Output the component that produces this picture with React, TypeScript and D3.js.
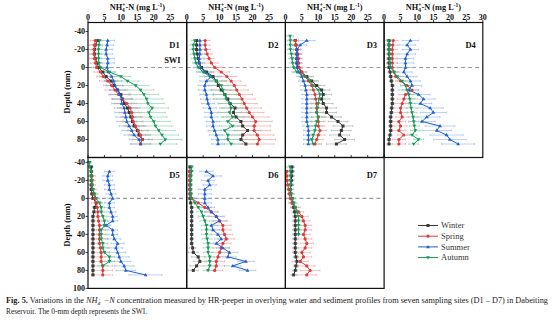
import React from "react";
import * as d3 from "d3";

const N = null;
const depths = [-40,-35,-30,-25,-20,-15,-10,-5,0,5,10,15,20,25,30,35,40,45,50,55,60,65,70,75,80,85];
const xTicks = [0,5,10,15,20,25,30];
const yTicksTop = [-40,-20,0,20,40,60,80];
const yTicksBottom = [-40,-20,0,20,40,60,80,100];
const seasons = ["Winter","Spring","Summer","Autumn"];
const panelNames = ["D1","D2","D3","D4","D5","D6","D7"];

// D1
const d1Winter = [N,N,3,2.2,2,2,2.2,2.8,3.2,4.5,5.5,7,8,9,10,10.5,11,12,12.5,13,13.5,14,15,15.5,16.5,N];
const d1Spring = [N,N,2.2,2,1.8,1.8,2,2.3,2.6,3.8,4.6,6,7.2,8.2,9.3,10.5,11.8,12.8,13.3,13.5,13.8,14.5,15.3,16,16.5,16];
const d1Summer = [N,N,6,5.8,5.5,5.5,6,6,5.8,6.2,7.2,7.8,8.2,9,9.6,10.2,10.2,11,11.2,11.5,11.8,12.5,13.3,14,15.5,16];
const d1Autumn = [N,N,3.5,3.3,3.2,3.2,3.2,3.3,3.8,6.5,10,12,14.5,16,17,17.8,18.2,19.5,18.5,19,20,20.5,21.5,22.5,23.5,22];
const d1WinterErr = [N,N,1,1,1,1,1,1,1.5,1.5,2,2,2.5,2.5,3,3,3,3,3,3,3,3,3,3,3,N];
const d1SpringErr = [N,N,1.5,1.5,1.5,1.5,1.5,1.5,1.5,2,2,2.5,2.5,3,3,3,3,3,3,3,3,3,3,3,3,3];
const d1SummerErr = [N,N,2,2,2,2,2,2,2,2,2.5,2.5,2.5,2.5,3,3,3,3,3,3,3,3,3,3,3,3];
const d1AutumnErr = [N,N,1,1,1,1,1,1,1.5,2,3,3.5,4,4,4.5,5,5,5,5,5,5,5,5,5,5,5];

// D2
const d2Winter = [N,N,3,3,3,3.2,3.5,3.8,4.5,6,8,9,9.6,10.5,11.6,12.5,13.2,14.7,14.2,15,16.5,17,18.5,17,16.5,18];
const d2Spring = [N,N,5.6,5.6,5.8,6.2,6.8,7.5,8.5,10.5,12.2,13.5,14.5,15.2,16,16.8,17.5,18.2,19,20,21,20.5,20.5,21.5,22,21.5];
const d2Summer = [N,N,4,4,4,4,3.8,3.8,4.2,5.5,7.5,6,5.5,5.5,6,6.2,6.5,7,7.5,7.5,8,8,8.5,9,9.5,9.5];
const d2Autumn = [N,N,2.5,2,2,2.2,2.5,2.8,3.5,5,7,9,10.5,11,11.5,12,13,13.5,13,14,12.5,14,11.5,12.5,12.5,13.5];
const d2WinterErr = [N,N,1,1,1,1,1,1,1.5,2,2.5,3,3,3,3.5,3.5,3.5,4,4,4,4,4,4,4,4,4];
const d2SpringErr = [N,N,1.5,1.5,1.5,1.5,1.5,2,2,2.5,3,3,3.5,3.5,4,4,4,4.5,4.5,5,5,5,5,5,5,5];
const d2SummerErr = [N,N,1.5,1.5,1.5,1.5,1.5,1.5,2,2,2,2,2,2,2,2,2,2,2,2,2,2,2,2,2,2];
const d2AutumnErr = [N,N,1,1,1,1,1,1,1.5,2,3,3,3.5,3.5,3.5,3.5,3.5,3.5,3.5,3.5,3.5,3.5,3.5,3.5,3.5,3.5];

// D3
const d3Winter = [N,N,3,3.2,3.5,3.5,3.5,3.5,3.8,4.8,6.5,8,9.5,11,11.5,11,11.5,12.5,12.5,14,16,17.5,17,16.5,18,15.5];
const d3Spring = [N,N,3,3.2,3.5,3.8,4,4,4.2,5,6,7,8,8.5,9,9.2,9.5,9.5,9.5,10,10,10,10.5,10,9.5,9];
const d3Summer = [N,N,6.5,4.5,3.5,3.5,3.5,3.5,3.5,4,5,5.5,6,6.2,6.5,6.5,6.5,6.5,6.5,6.5,6.5,6.8,7,7,7,7];
const d3Autumn = [N,1.4,1.5,1.5,1.5,1.8,2,2.2,2.5,3.5,6,7.5,8.5,10,10.5,10.2,10,9.8,9.5,10,9.5,9.2,9,8.5,8,8.5];
const d3WinterErr = [N,N,1,1,1,1,1,1,1,1.5,2,2,2.5,2.5,2.5,2.5,3,3,3,3,3,3,3,3,3,3];
const d3SpringErr = [N,N,1,1,1,1,1,1,1,1.5,1.5,2,2,2,2,2,2,2,2,2,2,2,2,2,2,2];
const d3SummerErr = [N,N,2.5,2,1.5,1.5,1.5,1.5,1.5,1.5,1.5,1.5,1.5,1.5,1.5,1.5,1.5,1.5,1.5,1.5,1.5,1.5,1.5,1.5,1.5,1.5];
const d3AutumnErr = [N,1,1,1,1,1,1,1,1,1.5,2,2,2,2,2,2,2,2,2,2,2,2,2,2,2,2];

// D4
const d4Winter = [N,N,1.5,1.5,1.5,1.5,1.5,1.5,1.5,1.8,2,2.2,2.5,2.5,2.5,2.5,2.5,2.3,2.2,2,2,2,2,1.8,1.5,1.5];
const d4Spring = [N,N,2.8,2.6,2.5,2.5,2.5,2.5,2.5,3,3.5,5,7,8.5,6.5,6,5.5,5,5,5.5,4.5,5,4.5,6,4.5,4.5];
const d4Summer = [N,N,8,7,8,7,6.5,6.5,6.5,6,7,8,8.5,7.5,10.5,12,11,14,15,13,11.5,17,16,19,20,22.5];
const d4Autumn = [N,N,1.3,1.4,1.5,1.6,1.8,1.8,2,3,4,5.5,6.5,7,7.5,7.8,8,8.2,8.5,8.8,9,9.2,9.5,8.5,10.5,9];
const d4WinterErr = [N,N,0.6,0.6,0.6,0.6,0.6,0.6,0.6,0.6,0.6,0.6,0.6,0.6,0.6,0.6,0.6,0.6,0.6,0.6,0.6,0.6,0.6,0.6,0.6,0.6];
const d4SpringErr = [N,N,1.5,1.5,1.5,1.5,1.5,1.5,1.5,1.5,1.5,1.5,2,2,2,2,2,2,2,2,2,2,2,2,2,2];
const d4SummerErr = [N,N,2.5,2.5,2.5,2.5,2.5,2.5,2.5,2.5,3,3,3,3,3.5,3.5,3.5,4,4,4,4,4.5,4.5,5,5,5];
const d4AutumnErr = [N,N,1,1,1,1,1,1,1,1,1.5,1.5,1.5,1.5,1.5,1.5,1.5,1.5,1.5,1.5,1.5,1.5,1.5,1.5,1.5,1.5];

// D5
const d5Winter = [N,1,1,1,1,1,1,1.2,1.5,2.5,2,1.8,1.5,1.5,1.5,1.5,1.5,1.5,1.5,1.5,1.5,1.5,1.5,1.5,1.5,1.5];
const d5Spring = [N,N,N,1.2,1.2,1.3,1.5,1.8,2,2.5,2.8,3,3,3.2,3.5,3.5,3.5,3.5,3.5,3.8,4,4,4,4.5,4.5,4.5];
const d5Summer = [N,N,6.5,6,6,6.5,6.5,7,7.5,6.5,6.5,7,7.5,7.5,5.5,7.5,7.5,8,9,8.5,9,9.5,10,11,11.5,17.5];
const d5Autumn = [0.5,0.5,1,1,1.2,1.2,1.5,2,2.5,3.5,4,4,4.5,5,5,4,4,4,4.5,4.5,5,6.5,6.5,4.5,N,N];
const d5WinterErr = [N,0.5,0.5,0.5,0.5,0.5,0.5,0.5,0.5,0.5,0.5,0.5,0.5,0.5,0.5,0.5,0.5,0.5,0.5,0.5,0.5,0.5,0.5,0.5,0.5,0.5];
const d5SpringErr = [N,N,N,1,1,1,1,1,1,1.5,1.5,1.5,1.5,2,2,2,2,2.5,2.5,2.5,2.5,3,3,3,3,3];
const d5SummerErr = [N,N,1.5,1.5,1.5,1.5,1.5,1.5,1.5,1.5,1.5,1.5,1.5,1.5,1.5,1.5,1.5,2,2,2,2.5,3,3,3,3,5];
const d5AutumnErr = [0.5,0.5,0.5,0.5,0.5,0.5,0.5,1,1,1,1,1,1,1,1.5,1.5,1.5,1.5,1.5,1.5,1.5,1.5,1.5,1.5,N,N];

// D6
const d6Winter = [N,1,1,1,1,1,1,1,1,1.2,1.5,1.5,1.5,1.5,1.5,1.5,1.5,1.5,1.5,1.8,2,3.5,4,3,2,N];
const d6Spring = [N,N,1,1,1,1,1,1.2,1.5,3.5,5.5,7.5,9,10,11,11,11.5,12,11,10.5,10,9.5,9,9,8.5,N];
const d6Summer = [N,N,6,8,6.5,7,5.5,5.5,5.5,5.5,6.5,7.5,9,10,7.5,8,9.5,10.5,9,11,13,12.5,18,14,18.5,N];
const d6Autumn = [N,1.5,1.5,1.3,1.2,1.2,1.2,1.3,1.5,2.5,3.5,4.5,5,5.5,6,6,6,6.2,6.5,6.5,6.5,7,7,7,6.5,N];
const d6WinterErr = [N,0.5,0.5,0.5,0.5,0.5,0.5,0.5,0.5,0.5,0.5,0.5,0.5,0.5,0.5,0.5,0.5,0.5,0.5,1,1.5,2,2,2,1.5,N];
const d6SpringErr = [N,N,0.5,0.5,0.5,0.5,0.5,0.5,1,1.5,2,2,2.5,2.5,2.5,2.5,2.5,2.5,2.5,2.5,2.5,2.5,2.5,2.5,2.5,N];
const d6SummerErr = [N,N,2,2.5,2,2,2,2,2,2,2,2,2,2,2,2,2,2,2,2,2.5,2.5,2.5,2.5,2.5,N];
const d6AutumnErr = [N,0.5,0.5,0.5,0.5,0.5,0.5,0.5,1,1,1.5,1.5,1.5,1.5,1.5,1.5,1.5,1.5,1.5,1.5,1.5,1.5,1.5,1.5,1.5,N];

// D7
const d7Winter = [N,2,2,1.9,1.8,1.7,1.5,1.6,2,2.2,2.5,2.8,3,3,3,3,3,3,3,3,3,3.2,3.5,3.2,3,2.5];
const d7Spring = [N,N,0.4,0.4,0.5,0.7,1,1.2,1.5,2,3,4,5,5.5,6,6,5.5,6,6.5,6,5,5.5,4.5,6.5,7.5,6.5];
const d7Summer = [N,N,N,N,N,N,N,N,N,N,N,N,N,N,N,N,N,N,N,N,N,N,N,N,N,N];
const d7Autumn = [N,1.4,1.5,1.5,1.5,1.5,1.5,1.8,2,2.5,3,3.5,4,4,4,4,4,N,N,N,N,N,N,N,N,N];
const d7WinterErr = [N,0.8,0.8,0.8,0.8,0.8,0.8,0.8,0.8,0.8,0.8,0.8,0.8,0.8,0.8,0.8,0.8,0.8,0.8,0.8,0.8,0.8,0.8,0.8,0.8,0.8];
const d7SpringErr = [N,N,0.5,0.5,0.5,0.5,0.5,0.5,1,1,1.5,1.5,2,2,2,2,2,2,2,2,2.5,2.5,2.5,2.5,3,3];
const d7SummerErr = [N,N,N,N,N,N,N,N,N,N,N,N,N,N,N,N,N,N,N,N,N,N,N,N,N,N];
const d7AutumnErr = [N,1,1,1,1,1,1,1,1,1,1,1,1,1,1,1,1,N,N,N,N,N,N,N,N,N];

const panelValues = [
  [d1Winter, d1Spring, d1Summer, d1Autumn],
  [d2Winter, d2Spring, d2Summer, d2Autumn],
  [d3Winter, d3Spring, d3Summer, d3Autumn],
  [d4Winter, d4Spring, d4Summer, d4Autumn],
  [d5Winter, d5Spring, d5Summer, d5Autumn],
  [d6Winter, d6Spring, d6Summer, d6Autumn],
  [d7Winter, d7Spring, d7Summer, d7Autumn],
];
const panelErrors = [
  [d1WinterErr, d1SpringErr, d1SummerErr, d1AutumnErr],
  [d2WinterErr, d2SpringErr, d2SummerErr, d2AutumnErr],
  [d3WinterErr, d3SpringErr, d3SummerErr, d3AutumnErr],
  [d4WinterErr, d4SpringErr, d4SummerErr, d4AutumnErr],
  [d5WinterErr, d5SpringErr, d5SummerErr, d5AutumnErr],
  [d6WinterErr, d6SpringErr, d6SummerErr, d6AutumnErr],
  [d7WinterErr, d7SpringErr, d7SummerErr, d7AutumnErr],
];

const lineColors = ["#3a3a3a", "#e2393a", "#1f5fd0", "#17995a"];
const errColors = ["#a8a8a8", "#f29a97", "#8fb2ee", "#86cfa6"];
const serif = "'Liberation Serif', 'DejaVu Serif', 'Times New Roman', serif";

const W = 554, H = 329;
const left0 = 88;
const panelW = 98.7;
const rows = [
  { top: 22.5, bottom: 157.5, zero: 67.5 },
  { top: 157.5, bottom: 288.4, zero: 198.4 },
];

function Marker({ kind, x, y, color }: { kind: number; x: number; y: number; color: string }) {
  if (kind === 0) return <rect x={x - 1.5} y={y - 1.5} width={3} height={3} fill={color} />;
  if (kind === 1) return <circle cx={x} cy={y} r={1.6} fill={color} />;
  if (kind === 2) return <path d={`M${x},${y - 2} L${x + 1.9},${y + 1.3} L${x - 1.9},${y + 1.3}Z`} fill={color} />;
  return <path d={`M${x},${y + 2} L${x + 1.9},${y - 1.3} L${x - 1.9},${y - 1.3}Z`} fill={color} />;
}

function Panel({ idx }: { idx: number }) {
  const row = idx < 4 ? 0 : 1;
  const col = idx < 4 ? idx : idx - 4;
  const r = rows[row];
  const x0 = left0 + col * panelW;
  const x = d3.scaleLinear().domain([0, 30]).range([x0, x0 + panelW]);
  const y = d3.scaleLinear().domain([0, 100]).range([r.zero, r.zero + 90]);
  const vals = panelValues[idx];
  const errs = panelErrors[idx];
  const line = d3
    .line<number | null>()
    .defined((v) => v !== null)
    .x((v) => x(v as number))
    .y((_, i) => y(depths[i]));

  return (
    <g>
      <line x1={x0} x2={x0 + panelW} y1={y(0)} y2={y(0)} stroke="#9a9a9a" strokeWidth={1.1} strokeDasharray="4 3" />
      {vals.map((s, si) => (
        <g key={"e" + si} stroke={errColors[si]} strokeWidth={0.6}>
          {s.map((v, i) => {
            const e = errs[si][i];
            if (v === null || e === null) return null;
            const yy = y(depths[i]);
            return (
              <g key={i}>
                <line x1={x(v - e)} x2={x(v + e)} y1={yy} y2={yy} />
                <line x1={x(v - e)} x2={x(v - e)} y1={yy - 1} y2={yy + 1} />
                <line x1={x(v + e)} x2={x(v + e)} y1={yy - 1} y2={yy + 1} />
              </g>
            );
          })}
        </g>
      ))}
      {vals.map((s, si) => (
        <g key={"s" + si}>
          <path d={line(s) || ""} fill="none" stroke={lineColors[si]} strokeWidth={1} />
          {s.map((v, i) =>
            v === null ? null : <Marker key={i} kind={si} x={x(v)} y={y(depths[i])} color={lineColors[si]} />
          )}
        </g>
      ))}
      <rect x={x0} y={r.top} width={panelW} height={r.bottom - r.top} fill="none" stroke="#111" strokeWidth={1.2} />
      {xTicks.map((t) => (
        <line key={"t" + t} x1={x(t)} x2={x(t)} y1={r.top} y2={r.top - 2.5} stroke="#111" strokeWidth={0.8} />
      ))}
      {row === 0 &&
        xTicks
          .filter((t) => t < 30 || idx === 3)
          .map((t) => (
            <text key={"l" + t} x={x(t)} y={19.5} textAnchor="middle" fontSize={8} fontWeight="bold" fontFamily={serif} fill="#111">
              {t}
            </text>
          ))}
      {row === 0 && (
        <text x={x0 + panelW / 2} y={10} textAnchor="middle" fontSize={8.3} fontWeight="bold" fontFamily={serif} fill="#111">
          NH<tspan fontSize={5.5} dy={2}>4</tspan>
          <tspan fontSize={5.5} dy={-5} dx={-2.6}>+</tspan>
          <tspan dy={3}>-N (mg L</tspan>
          <tspan fontSize={5.5} dy={-3}>-1</tspan>
          <tspan dy={3}>)</tspan>
        </text>
      )}
      <text x={x0 + panelW - 7} y={r.zero - 20} textAnchor="end" fontSize={8.5} fontWeight="bold" fontFamily={serif} fill="#111">
        {panelNames[idx]}
      </text>
      {idx === 0 && (
        <text x={x0 + panelW - 6} y={r.zero - 4.5} textAnchor="end" fontSize={8.5} fontWeight="bold" fontFamily={serif} fill="#111">
          SWI
        </text>
      )}
      {col === 0 && (
        <g>
          {(row === 0 ? yTicksTop : yTicksBottom).map((t) => (
            <g key={"y" + t}>
              <line x1={x0} x2={x0 - 2.5} y1={y(t)} y2={y(t)} stroke="#111" strokeWidth={0.8} />
              <text x={x0 - 3} y={y(t)} dy="0.35em" textAnchor="end" fontSize={8} fontWeight="bold" fontFamily={serif} fill="#111">
                {t}
              </text>
            </g>
          ))}
          <text
            transform={`translate(70,${(r.top + r.bottom) / 2 + 2}) rotate(-90)`}
            textAnchor="middle"
            fontSize={8.3}
            fontWeight="bold"
            fontFamily={serif}
            fill="#111"
          >
            Depth (mm)
          </text>
        </g>
      )}
    </g>
  );
}

function Legend() {
  const lx = 418, ly = 225.5, step = 10.7;
  return (
    <g>
      {seasons.map((s, i) => (
        <g key={s}>
          <line x1={lx} x2={lx + 20} y1={ly + i * step} y2={ly + i * step} stroke={lineColors[i]} strokeWidth={1} />
          <Marker kind={i} x={lx + 10} y={ly + i * step} color={lineColors[i]} />
          <text x={lx + 23} y={ly + i * step} dy="0.33em" fontSize={8.5} fontFamily={serif} fill="#333">
            {s}
          </text>
        </g>
      ))}
    </g>
  );
}

export default function App() {
  return (
    <svg width={W} height={H} style={{ position: "absolute", left: 0, top: 0, background: "#fff" }}>
      {panelNames.map((_, i) => (
        <Panel key={i} idx={i} />
      ))}
      <Legend />
      <text x={6} y={303} fontSize={7.4} fontFamily={serif} fill="#222" textLength={542} lengthAdjust="spacingAndGlyphs">
        <tspan fontWeight="bold">Fig. 5.</tspan>  Variations in the <tspan fontStyle="italic">NH</tspan>
        <tspan fontStyle="italic" fontSize={5} dy={1.5}>4</tspan>
        <tspan fontStyle="italic" fontSize={5} dy={-3.5} dx={-2.3}>+</tspan>
        <tspan fontStyle="italic" dy={2}> −N</tspan> concentration measured by HR-peeper in overlying water and sediment profiles from seven sampling sites (D1 – D7) in Dabeiting
      </text>
      <text x={6} y={313.5} fontSize={7.4} fontFamily={serif} fill="#222">
        Reservoir. The 0-mm depth represents the SWI.
      </text>
    </svg>
  );
}
